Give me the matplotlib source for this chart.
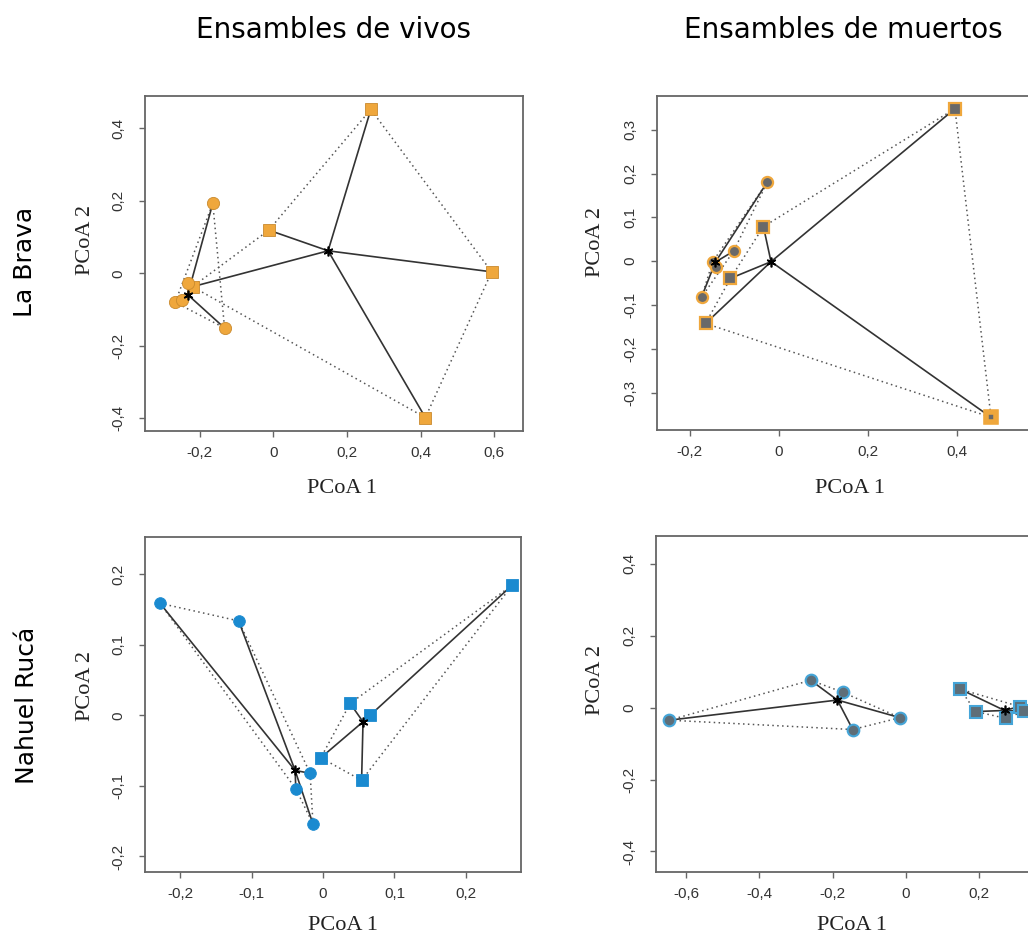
import numpy as np
import matplotlib
matplotlib.use('Agg')
import matplotlib.pyplot as plt

# La Brava - ensambles de vivos
lb_viv_circ_x = [-0.164, -0.231, -0.266, -0.248, -0.132]
lb_viv_circ_y = [0.193, -0.028, -0.080, -0.074, -0.151]
lb_viv_circ_cen = (-0.232, -0.059)
lb_viv_circ_hull = [0, 4, 2]
lb_viv_sq_x = [0.265, -0.012, 0.593, 0.413, -0.219]
lb_viv_sq_y = [0.452, 0.119, 0.004, -0.398, -0.037]
lb_viv_sq_cen = (0.149, 0.062)
lb_viv_sq_hull = [0, 1, 4, 3, 2]

# La Brava - ensambles de muertos
lb_mue_circ_x = [-0.025, -0.101, -0.148, -0.141, -0.173]
lb_mue_circ_y = [0.181, 0.023, -0.001, -0.012, -0.082]
lb_mue_circ_cen = (-0.142, -0.002)
lb_mue_circ_hull = [0, 2, 4, 1]
lb_mue_sq_x = [0.396, -0.034, -0.108, -0.164, 0.477]
lb_mue_sq_y = [0.348, 0.079, -0.039, -0.142, -0.356]
lb_mue_sq_cen = (-0.017, -0.001)
lb_mue_sq_hull = [0, 1, 2, 3, 4]

# Nahuel Ruca - vivos
nr_viv_circ_x = [-0.228, -0.118, -0.018, -0.038, -0.014]
nr_viv_circ_y = [0.159, 0.134, -0.082, -0.104, -0.154]
nr_viv_circ_cen = (-0.039, -0.078)
nr_viv_circ_hull = [0, 1, 2, 4, 3]
nr_viv_sq_x = [0.265, 0.038, 0.066, -0.003, 0.054]
nr_viv_sq_y = [0.185, 0.017, 0.000, -0.060, -0.092]
nr_viv_sq_cen = (0.056, -0.009)
nr_viv_sq_hull = [0, 1, 3, 4]

# Nahuel Ruca - muertos
nr_mue_circ_x = [-0.647, -0.260, -0.173, -0.145, -0.016]
nr_mue_circ_y = [-0.035, 0.076, 0.043, -0.061, -0.028]
nr_mue_circ_cen = (-0.187, 0.021)
nr_mue_circ_hull = [0, 1, 2, 4, 3]
nr_mue_sq_x = [0.149, 0.191, 0.274, 0.311, 0.324]
nr_mue_sq_y = [0.051, -0.011, -0.030, 0.003, -0.010]
nr_mue_sq_cen = (0.270, -0.008)
nr_mue_sq_hull = [0, 1, 2, 4, 3]

p1_xticks = [-0.2, 0, 0.2, 0.4, 0.6]
p1_xlabels = ['-0,2', '0', '0,2', '0,4', '0,6']
p1_yticks = [-0.4, -0.2, 0, 0.2, 0.4]
p1_ylabels = ['-0,4', '-0,2', '0', '0,2', '0,4']
p2_xticks = [-0.2, 0, 0.2, 0.4]
p2_xlabels = ['-0,2', '0', '0,2', '0,4']
p2_yticks = [-0.3, -0.2, -0.1, 0, 0.1, 0.2, 0.3]
p2_ylabels = ['-0,3', '-0,2', '-0,1', '0', '0,1', '0,2', '0,3']
p3_xticks = [-0.2, -0.1, 0, 0.1, 0.2]
p3_xlabels = ['-0,2', '-0,1', '0', '0,1', '0,2']
p3_yticks = [-0.2, -0.1, 0, 0.1, 0.2]
p3_ylabels = ['-0,2', '-0,1', '0', '0,1', '0,2']
p4_xticks = [-0.6, -0.4, -0.2, 0, 0.2]
p4_xlabels = ['-0,6', '-0,4', '-0,2', '0', '0,2']
p4_yticks = [-0.4, -0.2, 0, 0.2, 0.4]
p4_ylabels = ['-0,4', '-0,2', '0', '0,2', '0,4']

W, H = 1028, 938
fig = plt.figure(figsize=(W / 100, H / 100), dpi=100)


def px_axes(l, t, r, b):
    return fig.add_axes([l / W, 1 - b / H, (r - l) / W, (b - t) / H])


def group(ax, xs, ys, cen, hull, marker, face, edge, ms, mew):
    xs = np.array(xs)
    ys = np.array(ys)
    cx, cy = cen
    order = hull + hull[:1]
    ax.plot(xs[order], ys[order], color='#555555', lw=1.1, ls=(0, (1, 2.2)), zorder=1)
    for x, y in zip(xs, ys):
        ax.plot([cx, x], [cy, y], color='#333333', lw=1.2, zorder=2)
    ax.plot(xs, ys, ls='none', marker=marker, ms=ms, mfc=face, mec=edge, mew=mew,
            zorder=3, clip_on=False)
    ax.plot([cx], [cy], marker=(6, 2, 0), ms=7, color='black', mew=1.2, zorder=4)


def style(ax, xlim, ylim, xt, xl, yt, yl):
    ax.set_xlim(xlim)
    ax.set_ylim(ylim)
    ax.set_xticks(xt)
    ax.set_xticklabels(xl)
    ax.set_yticks(yt)
    ax.set_yticklabels(yl, rotation=90, va='center')
    for s in ax.spines.values():
        s.set_color('#666666')
        s.set_linewidth(1.3)
    ax.tick_params(axis='both', direction='out', length=4, width=1, color='#666666',
                   labelcolor='#333333', labelsize=11)
    ax.tick_params(axis='x', pad=7)
    ax.tick_params(axis='y', pad=10)
    for lab in ax.get_xticklabels() + ax.get_yticklabels():
        lab.set_family('Liberation Sans')


orange = '#EFA73C'
orange_edge = '#C98A2E'
grey = '#696969'
blue = '#1A8AD0'
slate = '#5E6E78'
light_blue = '#45A5D8'

ax1 = px_axes(145, 96, 523, 431)
group(ax1, lb_viv_sq_x, lb_viv_sq_y, lb_viv_sq_cen, lb_viv_sq_hull, 's', orange, orange_edge, 9, 0.6)
group(ax1, lb_viv_circ_x, lb_viv_circ_y, lb_viv_circ_cen, lb_viv_circ_hull, 'o', orange, orange_edge, 8.8, 0.6)
style(ax1, (-0.348, 0.678), (-0.435, 0.489), p1_xticks, p1_xlabels, p1_yticks, p1_ylabels)

ax2 = px_axes(657, 96, 1040, 430)
group(ax2, lb_mue_sq_x, lb_mue_sq_y, lb_mue_sq_cen, lb_mue_sq_hull, 's', grey, orange, 8.0, 1.6)
group(ax2, lb_mue_circ_x, lb_mue_circ_y, lb_mue_circ_cen, lb_mue_circ_hull, 'o', grey, orange, 8.0, 1.6)
# last muertos square is drawn larger in the original
ax2.plot(lb_mue_sq_x[-1:], lb_mue_sq_y[-1:], ls='none', marker='s', ms=7.5, mfc=grey,
         mec=orange, mew=4, zorder=3)
style(ax2, (-0.273, 0.587), (-0.385, 0.377), p2_xticks, p2_xlabels, p2_yticks, p2_ylabels)

ax3 = px_axes(145, 537, 521, 872)
group(ax3, nr_viv_circ_x, nr_viv_circ_y, nr_viv_circ_cen, nr_viv_circ_hull, 'o', blue, blue, 8.4, 0.6)
group(ax3, nr_viv_sq_x, nr_viv_sq_y, nr_viv_sq_cen, nr_viv_sq_hull, 's', blue, blue, 8.6, 0.6)
style(ax3, (-0.249, 0.277), (-0.222, 0.253), p3_xticks, p3_xlabels, p3_yticks, p3_ylabels)

ax4 = px_axes(656, 536, 1040, 872)
group(ax4, nr_mue_circ_x, nr_mue_circ_y, nr_mue_circ_cen, nr_mue_circ_hull, 'o', slate, light_blue, 8.4, 1.5)
group(ax4, nr_mue_sq_x, nr_mue_sq_y, nr_mue_sq_cen, nr_mue_sq_hull, 's', slate, light_blue, 8.4, 1.5)
style(ax4, (-0.683, 0.367), (-0.457, 0.477), p4_xticks, p4_xlabels, p4_yticks, p4_ylabels)

# titles, row labels, axis labels
fig.text(333 / W, 1 - 30 / H, 'Ensambles de vivos', ha='center', va='center', fontsize=20)
fig.text(843 / W, 1 - 30 / H, 'Ensambles de muertos', ha='center', va='center', fontsize=20)
fig.text(25 / W, 1 - 262 / H, 'La Brava', rotation=90, ha='center', va='center', fontsize=18)
fig.text(27 / W, 1 - 705 / H, 'Nahuel Rucá', rotation=90, ha='center', va='center', fontsize=18)

for x, y in [(85, 240), (595, 242), (85, 686), (596, 680)]:
    fig.text(x / W, 1 - y / H, 'PCoA 2', rotation=90, ha='center', va='center',
             fontsize=16, family='Liberation Serif', color='#222222')
for x, y in [(342, 488), (850, 488), (343, 925), (852, 925)]:
    fig.text(x / W, 1 - y / H, 'PCoA 1', ha='center', va='center',
             fontsize=16, family='Liberation Serif', color='#222222')

fig.savefig('out.png', dpi=100)
